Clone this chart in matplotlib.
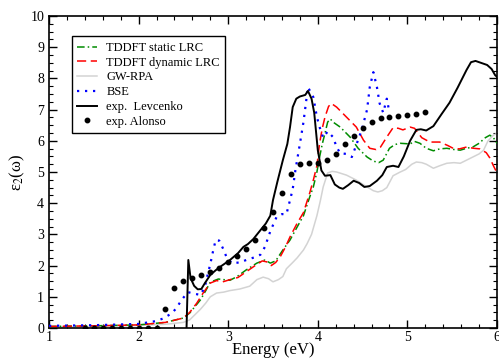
import matplotlib
matplotlib.use("Agg")
import matplotlib.pyplot as plt
from matplotlib.ticker import MultipleLocator

plt.rcParams["font.family"] = ["Liberation Serif", "DejaVu Serif"]
plt.rcParams["mathtext.fontset"] = "stix"

# exp. Levcenko (solid black)
lev_e = [2.535, 2.555, 2.58, 2.62, 2.66, 2.70, 2.74, 2.80, 2.86, 2.91, 3.02, 3.11, 3.17, 3.22,
         3.28, 3.35, 3.42, 3.47, 3.50, 3.55, 3.61, 3.66, 3.69, 3.72, 3.76, 3.80, 3.86, 3.89,
         3.93, 3.96, 4.00, 4.04, 4.08, 4.14, 4.19, 4.24, 4.28, 4.34, 4.40, 4.46, 4.52, 4.58,
         4.66, 4.72, 4.77, 4.84, 4.90, 4.96, 5.03, 5.10, 5.15, 5.21, 5.29, 5.38, 5.47, 5.56,
         5.66, 5.71, 5.76, 5.82, 5.89, 5.94, 5.98, 6.00]
lev_v = [0.0, 2.18, 1.6, 1.35, 1.24, 1.25, 1.44, 1.7, 1.85, 1.96, 2.18, 2.4, 2.6, 2.69,
         2.85, 3.1, 3.35, 3.6, 4.1, 4.7, 5.38, 5.9, 6.44, 7.08, 7.35, 7.42, 7.47, 7.6,
         7.35, 6.9, 5.7, 5.05, 4.88, 4.9, 4.6, 4.5, 4.46, 4.58, 4.72, 4.65, 4.52, 4.55,
         4.72, 4.9, 5.16, 5.2, 5.16, 5.5, 6.0, 6.35, 6.37, 6.33, 6.47, 6.85, 7.22, 7.7,
         8.27, 8.52, 8.56, 8.5, 8.43, 8.3, 8.1, 8.05]

# exp. Alonso (dots)
alo_e = [1.4, 1.5, 1.6, 1.7, 1.8, 1.9, 2.0, 2.1, 2.2, 2.3, 2.4, 2.5, 2.6, 2.7, 2.8, 2.9,
         3.0, 3.1, 3.2, 3.3, 3.4, 3.5, 3.6, 3.7, 3.8, 3.9, 4.0, 4.1, 4.2, 4.3, 4.4, 4.5,
         4.6, 4.7, 4.8, 4.9, 5.0, 5.1, 5.2]
alo_v = [0, 0, 0, 0, 0, 0, 0, 0, 0, 0.6, 1.28, 1.5, 1.6, 1.7, 1.8, 1.92,
         2.12, 2.32, 2.52, 2.83, 3.2, 3.71, 4.33, 4.93, 5.26, 5.28, 5.29, 5.38, 5.57, 5.89, 6.15, 6.4,
         6.6, 6.72, 6.77, 6.8, 6.82, 6.85, 6.92]

# BSE (blue dotted)
bse_e = [1.0, 1.5, 2.0, 2.19, 2.27, 2.37, 2.42, 2.48, 2.55, 2.62, 2.69, 2.74, 2.77, 2.80,
         2.83, 2.86, 2.90, 2.95, 2.98, 3.04, 3.13, 3.22, 3.30, 3.36, 3.41, 3.47, 3.54, 3.60,
         3.65, 3.69, 3.72, 3.75, 3.80, 3.84, 3.89, 3.95, 3.99, 4.02, 4.06, 4.11, 4.17, 4.21,
         4.25, 4.32, 4.38, 4.43, 4.49, 4.55, 4.58, 4.62, 4.66, 4.69, 4.73, 4.77, 4.80]
bse_v = [0.07, 0.09, 0.13, 0.22, 0.3, 0.47, 0.63, 0.9, 1.15, 1.1, 1.06, 1.32, 1.7, 2.05,
         2.45, 2.82, 2.8, 2.5, 2.28, 2.08, 2.1, 2.2, 2.27, 2.35, 2.6, 3.1, 3.56, 3.65,
         3.65, 4.1, 4.45, 5.06, 5.9, 6.6, 7.72, 7.4, 6.76, 6.44, 6.1, 6.3, 6.12, 5.8,
         5.6, 5.58, 5.48, 5.87, 6.35, 7.0, 7.72, 8.2, 7.72, 7.2, 6.9, 7.35, 6.9]

# TDDFT dynamic LRC (red dashed)
dyn_e = [1.0, 1.5, 2.0, 2.3, 2.5, 2.57, 2.65, 2.72, 2.8, 2.87, 2.94, 3.02, 3.11, 3.2, 3.3,
         3.38, 3.43, 3.48, 3.53, 3.58, 3.64, 3.69, 3.77, 3.84, 3.91, 3.95, 3.99, 4.02, 4.05,
         4.08, 4.12, 4.15, 4.21, 4.32, 4.43, 4.51, 4.58, 4.65, 4.70, 4.77, 4.84, 4.90, 4.95,
         5.03, 5.08, 5.16, 5.25, 5.36, 5.45, 5.51, 5.58, 5.66, 5.74, 5.81, 5.88, 5.92, 5.96, 6.0]
dyn_v = [0.05, 0.07, 0.1, 0.18, 0.32, 0.5, 0.8, 1.12, 1.44, 1.52, 1.48, 1.55, 1.62, 1.8, 2.0,
         2.15, 2.12, 2.0, 2.1, 2.28, 2.6, 2.92, 3.36, 3.7, 4.33, 4.74, 5.2, 5.92, 6.4,
         6.76, 7.1, 7.2, 7.08, 6.76, 6.44, 6.02, 5.76, 5.72, 5.8, 6.12, 6.42, 6.4, 6.35,
         6.44, 6.4, 6.1, 5.96, 5.96, 5.85, 5.76, 5.74, 5.8, 5.76, 5.74, 5.62, 5.45, 5.2, 4.97]

# TDDFT static LRC (green dash-dot)
sta_e = [1.0, 1.5, 2.0, 2.3, 2.5, 2.57, 2.69, 2.75, 2.8, 2.89, 2.95, 3.02, 3.1, 3.2, 3.32,
         3.41, 3.47, 3.53, 3.61, 3.69, 3.77, 3.84, 3.91, 3.95, 3.99, 4.02, 4.05, 4.08, 4.11,
         4.14, 4.17, 4.25, 4.36, 4.45, 4.55, 4.62, 4.68, 4.73, 4.80, 4.86, 4.92, 5.03, 5.08,
         5.14, 5.21, 5.29, 5.36, 5.44, 5.52, 5.59, 5.66, 5.73, 5.80, 5.87, 5.92, 5.96, 6.0]
sta_v = [0.05, 0.07, 0.1, 0.18, 0.32, 0.48, 0.9, 1.2, 1.47, 1.57, 1.55, 1.53, 1.65, 1.86, 2.08,
         2.18, 2.08, 2.15, 2.5, 2.82, 3.24, 3.6, 4.2, 4.52, 5.0, 5.48, 5.9, 6.24, 6.6,
         6.7, 6.6, 6.44, 6.12, 5.76, 5.48, 5.35, 5.3, 5.38, 5.76, 5.88, 5.92, 5.9, 5.98,
         5.92, 5.76, 5.68, 5.74, 5.76, 5.72, 5.7, 5.76, 5.8, 5.92, 6.1, 6.18, 6.1, 5.92]

# GW-RPA (light grey)
gw_e = [1.0, 1.5, 2.0, 2.3, 2.5, 2.57, 2.69, 2.75, 2.8, 2.87, 2.95, 3.02, 3.13, 3.24, 3.32,
        3.39, 3.45, 3.50, 3.56, 3.61, 3.65, 3.72, 3.77, 3.84, 3.88, 3.93, 3.99, 4.03, 4.06,
        4.11, 4.16, 4.21, 4.32, 4.43, 4.55, 4.62, 4.67, 4.72, 4.77, 4.84, 4.92, 4.98, 5.05,
        5.1, 5.16, 5.21, 5.29, 5.36, 5.44, 5.52, 5.59, 5.66, 5.73, 5.80, 5.85, 5.9, 5.96, 6.0]
gw_v = [0.03, 0.05, 0.08, 0.12, 0.18, 0.26, 0.6, 0.8, 1.0, 1.12, 1.15, 1.2, 1.25, 1.34, 1.55,
        1.63, 1.58, 1.48, 1.55, 1.65, 1.9, 2.1, 2.25, 2.5, 2.7, 3.0, 3.6, 4.1, 4.52,
        4.97, 5.02, 5.0, 4.9, 4.74, 4.52, 4.4, 4.36, 4.4, 4.5, 4.88, 5.0, 5.08, 5.25,
        5.32, 5.3, 5.25, 5.12, 5.2, 5.28, 5.3, 5.28, 5.38, 5.48, 5.58, 5.7, 6.0, 6.18, 6.24]

fig = plt.figure(figsize=(4.99, 3.6), dpi=100)
ax = fig.add_axes([49/499, 32/360, 448/499, 312/360])

ax.plot(gw_e, gw_v, color="#d3d3d3", lw=1.1, label="GW-RPA", zorder=2)
ax.plot(sta_e, sta_v, color="#008c00", lw=1.1, ls=(0, (5, 2, 1, 2)), label="TDDFT static LRC", zorder=3)
ax.plot(dyn_e, dyn_v, color="#ff0000", lw=1.1, ls=(0, (6, 3)), label="TDDFT dynamic LRC", zorder=3)
ax.plot(bse_e, bse_v, color="#0000ff", lw=1.6, ls=(0, (1, 2.6)), label="BSE", zorder=4)
ax.plot(lev_e, lev_v, color="black", lw=1.4, label="exp.  Levcenko", zorder=5)
ax.plot(alo_e, alo_v, "o", color="black", ms=3.2, label="exp. Alonso", zorder=6)

ax.set_xlim(1, 6)
ax.set_ylim(0, 10)
ax.xaxis.set_major_locator(MultipleLocator(1))
ax.xaxis.set_minor_locator(MultipleLocator(0.2))
ax.yaxis.set_major_locator(MultipleLocator(1))
ax.yaxis.set_minor_locator(MultipleLocator(0.25))
ax.tick_params(which="both", direction="in", top=True, right=True, labelsize=10)
ax.tick_params(which="major", length=6, width=1.0)
ax.tick_params(which="minor", length=3, width=0.8)
ax.tick_params(axis="x", pad=2)
for s in ax.spines.values():
    s.set_linewidth(1.2)

ax.set_xlabel("Energy (eV)", fontsize=12, labelpad=-1)
ax.set_ylabel(r"ε$_2$(ω)", fontsize=12, labelpad=2)

handles, labels = ax.get_legend_handles_labels()
order = [1, 2, 0, 3, 4, 5]
leg = ax.legend([handles[i] for i in order], [labels[i] for i in order],
                loc="upper left", bbox_to_anchor=(0.051, 0.935), fontsize=9,
                frameon=True, fancybox=False, edgecolor="black", framealpha=1,
                handlelength=1.6, handletextpad=0.7, labelspacing=0.22,
                borderpad=0.45, borderaxespad=0)
leg.get_frame().set_linewidth(1.0)

fig.savefig("out.png", dpi=100)
